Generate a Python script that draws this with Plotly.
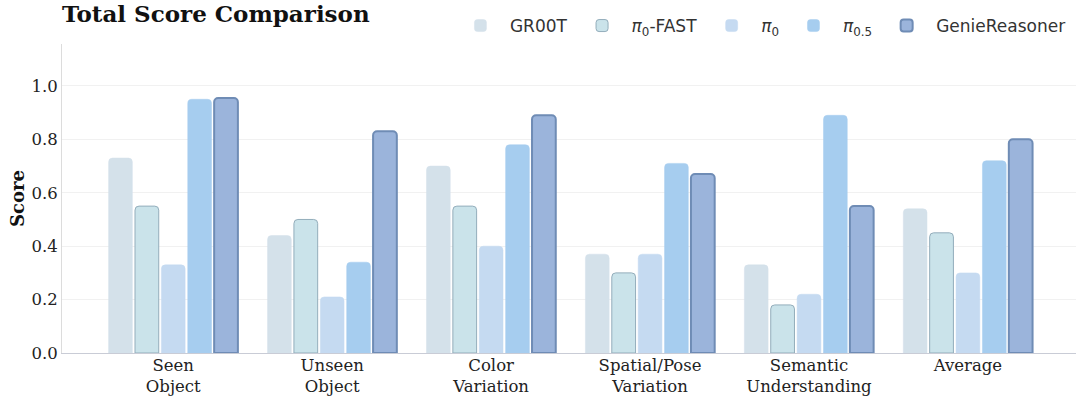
import plotly.graph_objects as go

categories = ["Seen<br>Object", "Unseen<br>Object", "Color<br>Variation",
              "Spatial/Pose<br>Variation", "Semantic<br>Understanding", "Average"]
series_names = ["GR00T", "<i>π</i><sub>0</sub>-FAST", "<i>π</i><sub>0</sub>",
                "<i>π</i><sub>0.5</sub>", "GenieReasoner"]
gr00t = [0.73, 0.44, 0.70, 0.37, 0.33, 0.54]
pi0_fast = [0.55, 0.50, 0.55, 0.30, 0.18, 0.45]
pi0 = [0.33, 0.21, 0.40, 0.37, 0.22, 0.30]
pi05 = [0.95, 0.34, 0.78, 0.71, 0.89, 0.72]
genie = [0.955, 0.83, 0.89, 0.67, 0.55, 0.80]
y_ticks = [0.0, 0.2, 0.4, 0.6, 0.8, 1.0]

series_values = [gr00t, pi0_fast, pi0, pi05, genie]
fills = ["#d4e1ea", "#cae3ea", "#c5daf1", "#a6cdef", "#9bb4db"]
lines = ["#d4e1ea", "#93adbb", "#c5daf1", "#a6cdef", "#6f8cb5"]
widths = [0.5, 1, 0.5, 0.5, 2]

fig = go.Figure()
for name, vals, fc, lc, lw in zip(series_names, series_values, fills, lines, widths):
    fig.add_trace(go.Bar(
        x=categories, y=vals, name=name,
        marker=dict(color=fc, line=dict(color=lc, width=lw), cornerradius=4),
    ))

fig.update_layout(
    width=1080, height=396,
    margin=dict(l=62, r=4, t=44, b=43, autoexpand=False),
    paper_bgcolor="white", plot_bgcolor="white",
    barmode="group", bargap=0.17, bargroupgap=0.1,
    title=dict(text="<b>Total Score Comparison</b>", x=62/1080, xanchor="left",
               y=1 - 6/396, yanchor="top", pad=dict(t=0, b=0, l=0, r=0),
               font=dict(family="DejaVu Serif", size=23, color="#111111")),
    legend=dict(orientation="h", x=0.995, xanchor="right", y=1.0, yanchor="bottom",
                font=dict(family="DejaVu Sans", size=17, color="#333333"),
                bgcolor="rgba(0,0,0,0)", itemwidth=49, traceorder="normal"),
    font=dict(family="DejaVu Serif", color="#222222"),
)
fig.update_xaxes(
    range=[-0.7, 5.68], showline=True, linecolor="#c9ccd6", linewidth=1,
    ticks="", tickfont=dict(family="DejaVu Serif", size=16.5, color="#222222"),
    showgrid=False, automargin=False, ticklabelstandoff=-3,
)
fig.update_yaxes(
    range=[0, 1.157], tickvals=y_ticks, ticktext=[f"{v:.1f}" for v in y_ticks],
    showline=True, linecolor="#dcdcdc", linewidth=1,
    showgrid=True, gridcolor="#f1f1f1", gridwidth=1, zeroline=False,
    ticks="", tickfont=dict(family="DejaVu Serif", size=16.5, color="#222222"),
    automargin=False,
    title=dict(text="<b>Score</b>", font=dict(family="DejaVu Serif", size=18, color="#111111"),
               standoff=2),
)
fig.write_html("out.html", config={"displayModeBar": False},
               post_script="document.body.style.margin='0';")
